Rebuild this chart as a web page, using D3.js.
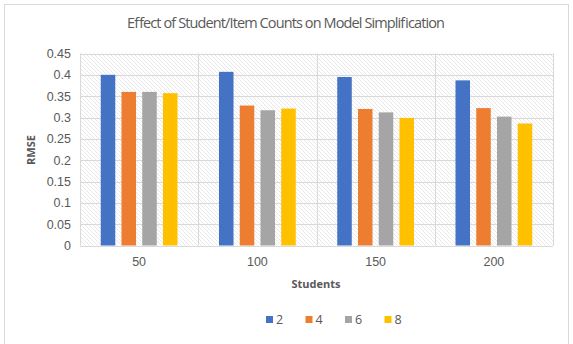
<!DOCTYPE html>
<html>
<head>
<meta charset="utf-8">
<script src="https://cdn.jsdelivr.net/npm/d3@7"></script>
<style>
  body { margin: 0; background: #fff; }
  svg { display: block; font-family: "Open Sans", "Liberation Sans", sans-serif; }
</style>
</head>
<body>
<svg id="chart" width="573" height="344"></svg>
<script>
// data
const students = ["50", "100", "150", "200"];
const itemCounts = ["2", "4", "6", "8"];
const rmse2 = [0.400, 0.407, 0.395, 0.387];
const rmse4 = [0.360, 0.328, 0.320, 0.322];
const rmse6 = [0.360, 0.317, 0.312, 0.302];
const rmse8 = [0.357, 0.321, 0.299, 0.286];
const yTicks = [0, 0.05, 0.1, 0.15, 0.2, 0.25, 0.3, 0.35, 0.4, 0.45];
const colors = ["#4472C4", "#ED7D31", "#A5A5A5", "#FFC000"];

const seriesValues = [rmse2, rmse4, rmse6, rmse8];

const svg = d3.select("#chart");
const plot = { left: 80, right: 553, top: 53.5, bottom: 245.5 };

// outer chart border
svg.append("rect")
  .attr("x", 4.5).attr("y", 4.5)
  .attr("width", 564).attr("height", 345)
  .attr("fill", "#fff")
  .attr("stroke", "#d9d9d9");

// hatch pattern for the plot area
let pat = svg.append("defs").append("pattern")
  .attr("id", "hatch")
  .attr("patternUnits", "userSpaceOnUse")
  .attr("width", 4).attr("height", 4);
pat.append("path")
  .attr("d", "M-1,-1 L5,5 M3,-1 L5,1 M-1,3 L1,5")
  .attr("stroke", "#e2e2e2")
  .attr("stroke-width", 0.8);

svg.append("rect")
  .attr("x", plot.left).attr("y", plot.top)
  .attr("width", plot.right - plot.left)
  .attr("height", plot.bottom - plot.top)
  .attr("fill", "url(#hatch)");

// scales
let x0 = d3.scaleBand()
  .domain(students)
  .range([plot.left, plot.right]);

let x1 = d3.scaleBand()
  .domain(itemCounts)
  .range([0, x0.bandwidth()])
  .paddingInner(0.3)
  .paddingOuter(1.0);

let y = d3.scaleLinear()
  .domain([0, 0.45])
  .range([plot.bottom, plot.top]);

// horizontal gridlines
svg.append("g")
  .selectAll("line")
  .data(yTicks)
  .join("line")
  .attr("x1", plot.left).attr("x2", plot.right)
  .attr("y1", d => Math.round(y(d)) + 0.5)
  .attr("y2", d => Math.round(y(d)) + 0.5)
  .attr("stroke", "#d9d9d9");

// vertical category lines
let bounds = students.map(d => x0(d)).concat([plot.right]);
svg.append("g")
  .selectAll("line")
  .data(bounds)
  .join("line")
  .attr("x1", d => Math.round(d) + 0.5).attr("x2", d => Math.round(d) + 0.5)
  .attr("y1", plot.top).attr("y2", plot.bottom)
  .attr("stroke", "#d9d9d9");

// bars
let groups = svg.append("g")
  .selectAll("g")
  .data(students)
  .join("g")
  .attr("transform", d => `translate(${x0(d)},0)`);

groups.selectAll("rect")
  .data((d, i) => itemCounts.map((k, j) => ({ key: k, value: seriesValues[j][i], idx: j })))
  .join("rect")
  .attr("x", d => x1(d.key))
  .attr("width", x1.bandwidth())
  .attr("y", d => y(d.value))
  .attr("height", d => y(0) - y(d.value))
  .attr("fill", d => colors[d.idx]);

// y axis labels
let yAxis = d3.axisLeft(y)
  .tickValues(yTicks)
  .tickSize(0)
  .tickPadding(9)
  .tickFormat(d => d3.format("")(+d.toFixed(2)));

let gy = svg.append("g")
  .attr("transform", `translate(${plot.left},0)`)
  .call(yAxis);
gy.select(".domain").remove();
gy.selectAll("text")
  .attr("fill", "#595959")
  .style("font-size", "12.5px");

// x axis labels
let xAxis = d3.axisBottom(x0).tickSize(0).tickPadding(12);
let gx = svg.append("g")
  .attr("transform", `translate(0,${plot.bottom})`)
  .call(xAxis);
gx.select(".domain").remove();
gx.selectAll("text")
  .attr("fill", "#595959")
  .style("font-size", "12.5px");

// title
svg.append("text")
  .attr("x", 286).attr("y", 28)
  .attr("text-anchor", "middle")
  .attr("fill", "#595959")
  .style("font-size", "14.5px")
  .attr("textLength", 318)
  .text("Effect of Student/Item Counts on Model Simplification");

// axis titles
svg.append("text")
  .attr("transform", "translate(35,150) rotate(-90)")
  .attr("text-anchor", "middle")
  .attr("fill", "#595959")
  .style("font-size", "11px")
  .style("font-weight", "bold")
  .text("RMSE");

svg.append("text")
  .attr("x", 316).attr("y", 288)
  .attr("text-anchor", "middle")
  .attr("fill", "#595959")
  .style("font-size", "11px")
  .style("font-weight", "bold")
  .text("Students");

// legend
let legend = svg.append("g")
  .selectAll("g")
  .data(itemCounts)
  .join("g")
  .attr("transform", (d, i) => `translate(${266 + i * 39.5},316)`);

legend.append("rect")
  .attr("width", 7).attr("height", 7)
  .attr("fill", (d, i) => colors[i]);

legend.append("text")
  .attr("x", 10).attr("y", 7.5)
  .attr("fill", "#595959")
  .style("font-size", "12.5px")
  .text(d => d);
</script>
</body>
</html>
